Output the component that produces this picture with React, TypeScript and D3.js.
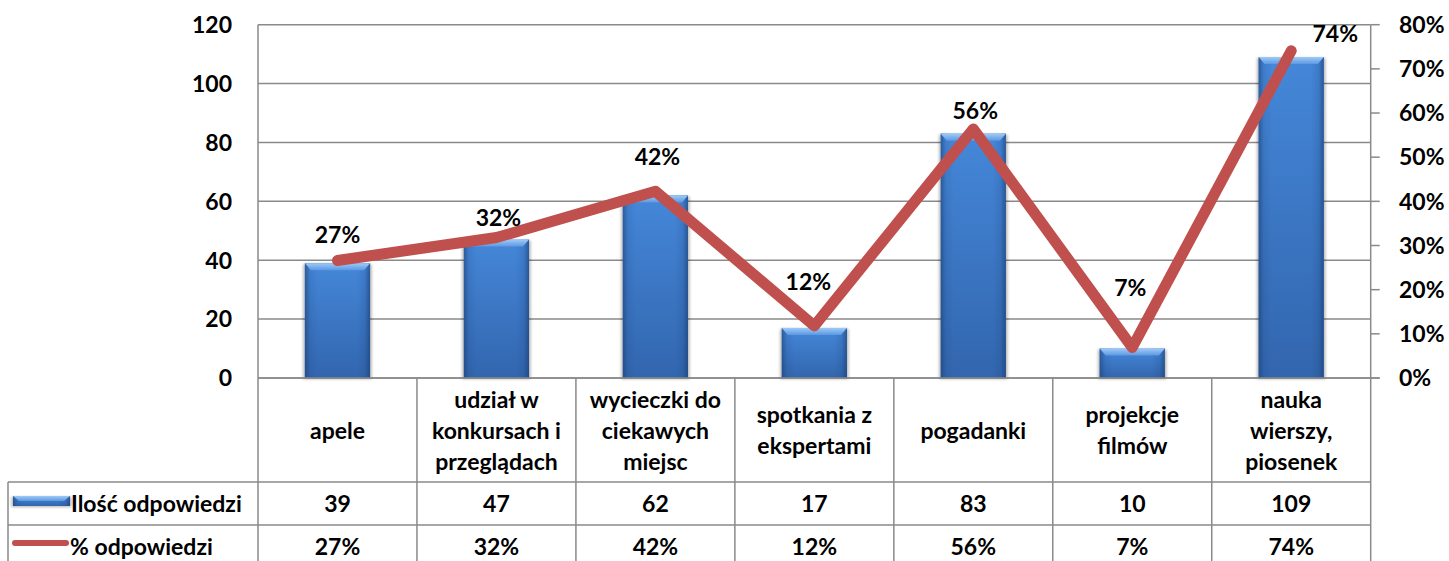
import React from "react";
import * as d3 from "d3";

// ---- data ----
const categoryLines: string[][] = [
  ["apele"],
  ["udział w", "konkursach i", "przeglądach"],
  ["wycieczki do", "ciekawych", "miejsc"],
  ["spotkania z", "ekspertami"],
  ["pogadanki"],
  ["projekcje", "filmów"],
  ["nauka", "wierszy,", "piosenek"],
];
const counts: number[] = [39, 47, 62, 17, 83, 10, 109];
const percents: number[] = [26.6, 31.8, 42.3, 11.8, 56.4, 6.9, 74.1];
const leftTicks: number[] = [0, 20, 40, 60, 80, 100, 120];
const rightTicks: number[] = [0, 0.1, 0.2, 0.3, 0.4, 0.5, 0.6, 0.7, 0.8];
const seriesNames: string[] = ["Ilość odpowiedzi", "% odpowiedzi"];

// label placement (layout, relative to point)
const labelOffsets: [number, number][] = [
  [0, -26], [2, -20], [2, -34], [-6, -44], [2, -18], [-2, -60], [44, -17],
];

// ---- layout ----
const W = 1449, H = 561;
const plotL = 258, plotR = 1370.7, plotT = 24.7, plotB = 378;
const row1B = 482, row2B = 525, row3B = 568;
const tableL = 8;
const FONT = "Lato, 'Open Sans', sans-serif";
const FS = 23;
const GRID = "#8a8a8a";
const RED = "#c0504d";

const fmtPct = (v: number) => `${Math.round(v)}%`;

function Bar({ x, y, w, h }: { x: number; y: number; w: number; h: number }) {
  const b = Math.min(7, h / 2);
  const inset = 6;
  return (
    <g>
      <rect x={x - 1.5} y={y + 1} width={w + 3} height={h} fill="#000" opacity={0.3} filter="url(#blur)" />
      <rect x={x} y={y} width={w} height={h} fill="url(#barV)" />
      <rect x={x} y={y} width={w} height={h} fill="url(#barH)" />
      <polygon
        points={`${x},${y} ${x + w},${y} ${x + w - inset},${y + b} ${x + inset},${y + b}`}
        fill="url(#bevelTop)"
      />
    </g>
  );
}

export default function App() {
  const names = categoryLines.map((l) => l.join(" "));
  const x = d3.scaleBand<string>().domain(names).range([plotL, plotR]).paddingInner(0).paddingOuter(0);
  const yL = d3.scaleLinear().domain([0, 120]).range([plotB, plotT]);
  const yR = d3.scaleLinear().domain([0, 0.8]).range([plotB, plotT]);
  const bw = x.bandwidth() * 0.41;
  const cx = (i: number) => (x(names[i]) as number) + x.bandwidth() / 2;

  const linePts: [number, number][] = percents.map((p, i) => [cx(i), yR(p / 100)]);
  const lineGen = d3.line<[number, number]>().x((d) => d[0]).y((d) => d[1]);

  const txt = { fontFamily: FONT, fontSize: FS, fontWeight: 700, fill: "#000" } as const;
  const row2Mid = (row1B + row2B) / 2;
  const row3Mid = (row2B + row3B) / 2;
  const row1Mid = (plotB + row1B) / 2;
  const lh = 31;
  const baseOff = 8.5;

  return (
    <svg width={W} height={H} style={{ position: "absolute", left: 0, top: 0, display: "block", background: "#fff" }}>
      <defs>
        <linearGradient id="barV" x1="0" x2="0" y1="0" y2="1">
          <stop offset="0" stopColor="#4587d9" />
          <stop offset="1" stopColor="#3266ae" />
        </linearGradient>
        <linearGradient id="barH" x1="0" x2="1" y1="0" y2="0">
          <stop offset="0" stopColor="#163a6e" stopOpacity={0.55} />
          <stop offset="0.08" stopColor="#163a6e" stopOpacity={0.12} />
          <stop offset="0.2" stopColor="#163a6e" stopOpacity={0} />
          <stop offset="0.8" stopColor="#163a6e" stopOpacity={0} />
          <stop offset="0.92" stopColor="#163a6e" stopOpacity={0.15} />
          <stop offset="1" stopColor="#163a6e" stopOpacity={0.6} />
        </linearGradient>
        <linearGradient id="bevelTop" x1="0" x2="0" y1="0" y2="1">
          <stop offset="0" stopColor="#9fcaf6" />
          <stop offset="1" stopColor="#5b98e2" />
        </linearGradient>
        <filter id="blur" x="-20%" y="-20%" width="140%" height="140%">
          <feGaussianBlur stdDeviation="1.5" />
        </filter>
      </defs>

      {/* gridlines */}
      {leftTicks.map((t) => (
        <line key={`g${t}`} x1={plotL} x2={plotR} y1={yL(t)} y2={yL(t)} stroke={GRID} strokeWidth={1.5} />
      ))}
      {/* left axis labels */}
      {leftTicks.map((t) => (
        <text key={`l${t}`} x={232} y={yL(t)} dy="0.36em" textAnchor="end" {...txt}>
          {t}
        </text>
      ))}
      {/* right axis */}
      <line x1={plotR} x2={plotR} y1={plotT} y2={H} stroke={GRID} strokeWidth={1.5} />
      {rightTicks.map((t) => (
        <g key={`r${t}`}>
          <line x1={plotR} x2={plotR + 9} y1={yR(t)} y2={yR(t)} stroke={GRID} strokeWidth={1.5} />
          <text x={1399} y={yR(t)} dy="0.36em" textAnchor="start" {...txt}>
            {`${Math.round(t * 100)}%`}
          </text>
        </g>
      ))}

      {/* table lines */}
      <line x1={plotL} x2={plotL} y1={plotT} y2={H} stroke={GRID} strokeWidth={1.5} />
      <line x1={tableL} x2={plotR} y1={row1B} y2={row1B} stroke={GRID} strokeWidth={1.5} />
      <line x1={tableL} x2={plotR} y1={row2B} y2={row2B} stroke={GRID} strokeWidth={1.5} />
      <line x1={tableL} x2={tableL} y1={row1B} y2={H} stroke={GRID} strokeWidth={1.5} />
      {names.map((n, i) =>
        i > 0 ? (
          <line key={`v${i}`} x1={x(n) as number} x2={x(n) as number} y1={plotB} y2={H} stroke={GRID} strokeWidth={1.5} />
        ) : null
      )}

      {/* bars */}
      {counts.map((c, i) => (
        <Bar key={`b${i}`} x={cx(i) - bw / 2} y={yL(c)} w={bw} h={plotB - yL(c)} />
      ))}

      {/* bottom axis line */}
      <line x1={plotL} x2={plotR + 9} y1={plotB} y2={plotB} stroke={GRID} strokeWidth={1.5} />

      {/* line series */}
      <path d={lineGen(linePts) as string} fill="none" stroke={RED} strokeWidth={11} strokeLinejoin="round" strokeLinecap="round" />

      {/* data labels */}
      {percents.map((p, i) => (
        <text
          key={`dl${i}`}
          x={linePts[i][0] + labelOffsets[i][0]}
          y={linePts[i][1] + labelOffsets[i][1]}
          dy="0.36em"
          textAnchor="middle"
          {...txt}
        >
          {fmtPct(p)}
        </text>
      ))}

      {/* category labels */}
      {categoryLines.map((lines, i) => (
        <text key={`c${i}`} textAnchor="middle" {...txt}>
          {lines.map((ln, j) => (
            <tspan key={j} x={cx(i)} y={row1Mid + baseOff + (j - (lines.length - 1) / 2) * lh}>
              {ln}
            </tspan>
          ))}
        </text>
      ))}

      {/* value rows */}
      {counts.map((c, i) => (
        <text key={`vc${i}`} x={cx(i)} y={row2Mid + baseOff} textAnchor="middle" {...txt}>
          {c}
        </text>
      ))}
      {percents.map((p, i) => (
        <text key={`vp${i}`} x={cx(i)} y={row3Mid + baseOff} textAnchor="middle" {...txt}>
          {fmtPct(p)}
        </text>
      ))}

      {/* legend keys */}
      <Bar x={13} y={496} w={57} h={10} />
      <line x1={15} x2={66} y1={543} y2={543} stroke={RED} strokeWidth={6} strokeLinecap="round" />
      <text x={71} y={row2Mid + baseOff} {...txt}>{seriesNames[0]}</text>
      <text x={70} y={row3Mid + baseOff} {...txt}>{seriesNames[1]}</text>
    </svg>
  );
}
